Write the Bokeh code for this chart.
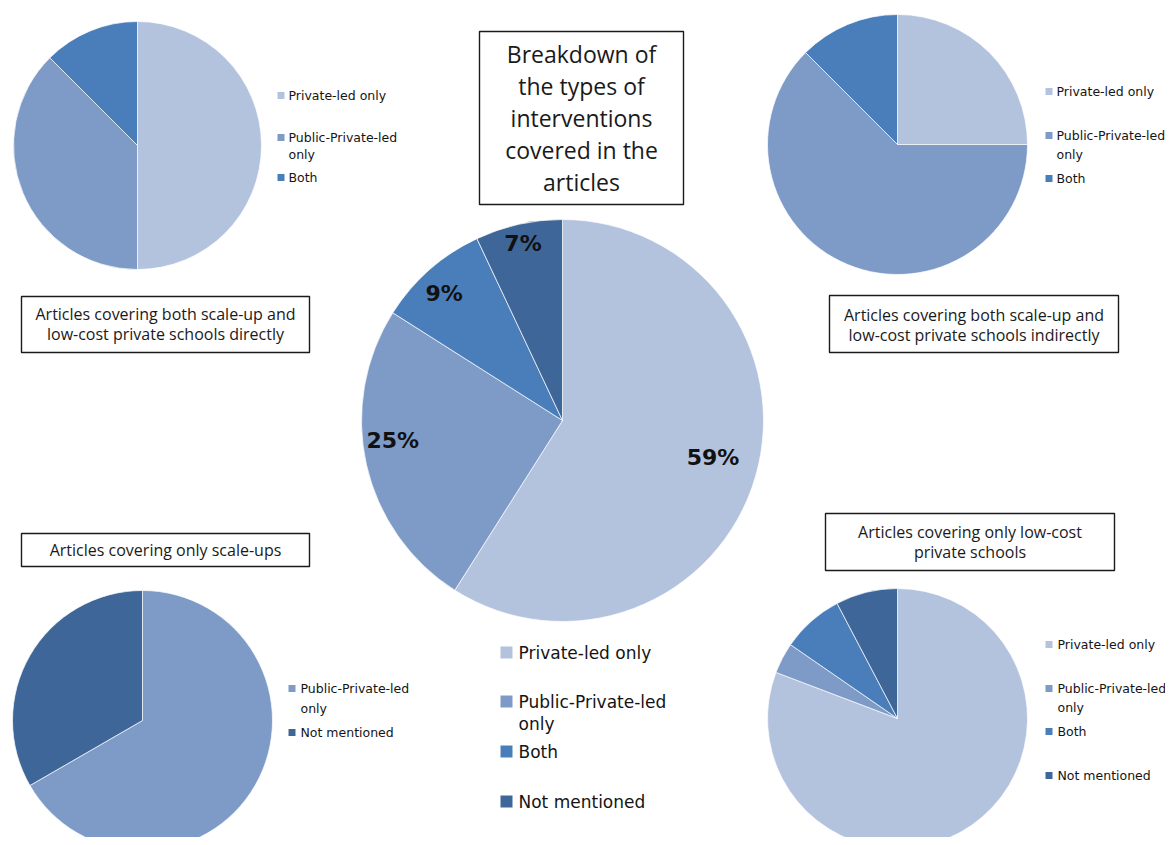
import math
from bokeh.plotting import figure
from bokeh.models import Range1d, ColumnDataSource
from bokeh.embed import file_html
from bokeh.resources import INLINE
from bokeh.core.properties import value

# ---------------- data ----------------
categories = ["Private-led only", "Public-Private-led only", "Both", "Not mentioned"]
legend_wrap = {
    "Private-led only": ["Private-led only"],
    "Public-Private-led only": ["Public-Private-led", "only"],
    "Both": ["Both"],
    "Not mentioned": ["Not mentioned"],
}
palette = ["#B3C3DE", "#7E9BC8", "#4A7EBB", "#3F6699"]

overall_cats = ["Private-led only", "Public-Private-led only", "Both", "Not mentioned"]
overall_values = [59, 25, 9, 7]

direct_cats = ["Private-led only", "Public-Private-led only", "Both"]
direct_values = [4, 3, 1]

indirect_cats = ["Private-led only", "Public-Private-led only", "Both"]
indirect_values = [2, 5, 1]

scaleup_cats = ["Public-Private-led only", "Not mentioned"]
scaleup_values = [2, 1]

lowcost_cats = ["Private-led only", "Public-Private-led only", "Both", "Not mentioned"]
lowcost_values = [21, 1, 2, 2]

center_title = ["Breakdown of", "the types of", "interventions", "covered in the", "articles"]
direct_title = ["Articles covering both scale-up and", "low-cost private schools directly"]
indirect_title = ["Articles covering both scale-up and", "low-cost private schools indirectly"]
scaleup_title = ["Articles covering only scale-ups"]
lowcost_title = ["Articles covering only low-cost", "private schools"]

# ---------------- figure ----------------
W, H = 1165, 837
p = figure(width=W, height=H, x_range=Range1d(0, W), y_range=Range1d(845 - H, 845),
           x_axis_type=None, y_axis_type=None, toolbar_location=None,
           output_backend="svg", min_border=0)
p.grid.visible = False
p.outline_line_color = None
p.background_fill_color = "white"
p.border_fill_color = "white"


def Y(py):
    return 845 - py


LEG_FONT = value("DejaVu Sans")
TITLE_FONT = value("Open Sans")


def draw_pie(cats, vals, cx, cy, r):
    total = float(sum(vals))
    starts, ends, cols = [], [], []
    cum = 0.0
    for c, v in zip(cats, vals):
        starts.append(math.pi / 2 - 2 * math.pi * cum / total)
        cum += v
        ends.append(math.pi / 2 - 2 * math.pi * cum / total)
        cols.append(palette[categories.index(c)])
    src = ColumnDataSource(dict(start=starts, end=ends, color=cols))
    p.wedge(x=cx, y=Y(cy), radius=r, start_angle="start", end_angle="end",
            direction="clock", fill_color="color", line_color="white",
            line_alpha=0.7, line_width=1, source=src)
    return starts, ends


def draw_legend(cats, mx, ms, tx, ys, gap, fsize):
    for c, yy in zip(cats, ys):
        col = palette[categories.index(c)]
        p.rect(x=mx + ms / 2, y=Y(yy), width=ms, height=ms, fill_color=col, line_color=None)
        for k, line in enumerate(legend_wrap[c]):
            p.text(x=[tx], y=[Y(yy + k * gap)], text=[line], text_font=LEG_FONT,
                   text_font_size=fsize, text_color="#141414",
                   text_align="left", text_baseline="middle")


def draw_box(lines, l, t, r, b, ys, fsize):
    p.quad(left=l, right=r, top=Y(t), bottom=Y(b), fill_color="white",
           line_color="#1a1a1a", line_width=1.4)
    cx = (l + r) / 2
    for line, yy in zip(lines, ys):
        p.text(x=[cx], y=[Y(yy)], text=[line], text_font=TITLE_FONT,
               text_font_size=fsize, text_color="#1a1a1a",
               text_align="center", text_baseline="middle")


# top-left
draw_pie(direct_cats, direct_values, 137, 145, 124)
draw_legend(direct_cats, 277, 7, 288, [95, 137, 177], 17, "12.5px")
draw_box(direct_title, 21, 296, 309, 352, [313, 333], "16px")

# top-right
draw_pie(indirect_cats, indirect_values, 897, 144, 130)
draw_legend(indirect_cats, 1045, 7, 1056, [91, 135, 178], 19, "12.5px")
draw_box(indirect_title, 829, 295, 1118, 352, [314, 334], "16px")

# bottom-left
draw_pie(scaleup_cats, scaleup_values, 142, 720, 130)
draw_legend(scaleup_cats, 288, 7, 300, [688, 732], 20, "12.5px")
draw_box(scaleup_title, 21, 533, 309, 566, [549], "16px")

# bottom-right
draw_pie(lowcost_cats, lowcost_values, 897, 718, 130)
draw_legend(lowcost_cats, 1045, 7, 1057, [644, 688, 731, 775], 19, "12.5px")
draw_box(lowcost_title, 825, 513, 1114, 570, [531, 551], "16px")

# center
CX, CY, CR = 562, 420, 201
starts, ends = draw_pie(overall_cats, overall_values, CX, CY, CR)
label_r = [0.78, 0.85, 0.86, 0.90]
label_shift = [(0, 7), (-3, 17), (-4, -3), (0, 0)]   # small nudges (px, upward positive)
lx, ly, lt = [], [], []
for s, e, v, f, sh in zip(starts, ends, overall_values, label_r, label_shift):
    mid = (s + e) / 2
    lx.append(CX + f * CR * math.cos(mid) + sh[0])
    ly.append(Y(CY) + f * CR * math.sin(mid) + sh[1])
    lt.append(f"{v}%")
p.text(x=lx, y=ly, text=lt, text_font=LEG_FONT, text_font_style="bold",
       text_font_size="22px", text_color="#111111",
       text_align="center", text_baseline="middle")
draw_legend(overall_cats, 500, 12, 518, [652, 701, 751, 801], 22, "17px")
draw_box(center_title, 479, 31, 683, 204, [53, 85, 117, 149, 181], "23px")

open("out.html", "w").write(file_html(p, INLINE))
